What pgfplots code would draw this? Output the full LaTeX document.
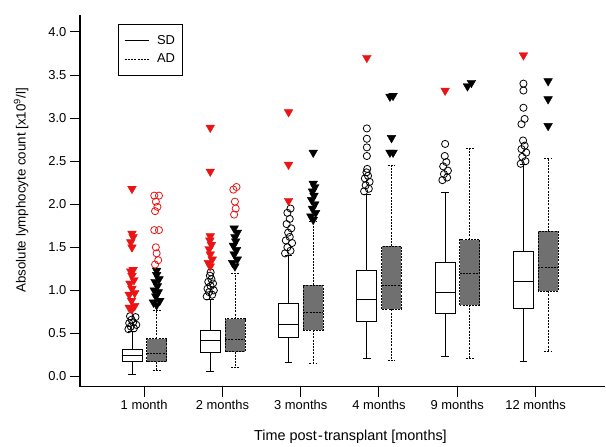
\documentclass[border=0pt]{standalone}
\usepackage{fontspec}
\setmainfont{Liberation Sans}
\usepackage{pgfplots}
\pgfplotsset{compat=1.18}
\usepgfplotslibrary{statistics}
\usetikzlibrary{calc}
\definecolor{myred}{RGB}{235,20,20}
\definecolor{boxgray}{RGB}{112,112,112}
\pgfplotsset{
  sdbox/.style={forget plot, black, solid, line width=0.8bp,
    boxplot/draw direction=y,
    boxplot/box extend=0.255, boxplot/whisker extend=0.1,
    boxplot/every box/.style={draw=black, fill=white}},
  adbox/.style={forget plot, black, dash pattern=on 2bp off 1.2bp, line width=0.8bp,
    boxplot/draw direction=y,
    boxplot/box extend=0.255, boxplot/whisker extend=0.1,
    boxplot/every box/.style={draw=black, fill=boxgray}},
  circblack/.style={forget plot, only marks, mark=o, mark size=3.6bp, black, mark options={line width=0.8bp, fill=white}},
  circred/.style={forget plot, only marks, mark=o, mark size=3.6bp, myred, mark options={line width=0.8bp}},
  trired/.style={forget plot, only marks, mark=triangle*, mark size=5bp, myred, mark options={rotate=180, draw=myred, fill=myred}},
  triblack/.style={forget plot, only marks, mark=triangle*, mark size=5bp, black, mark options={rotate=180, fill=black}},
}
\begin{document}
\begin{tikzpicture}[font=\fontsize{13}{15}\selectfont]
\begin{axis}[
  scale only axis, width=526bp, height=372bp,
  xmin=-0.82, xmax=5.89, ymin=-0.116, ymax=4.197,
  axis x line=bottom, axis y line=left,
  axis line style={line width=1.5bp, -},
  xtick={0,1,2,3,4,5},
  xticklabels={1 month, 2 months, 3 months, 4 months, 9 months, 12 months},
  ytick={0,0.5,1,1.5,2,2.5,3,3.5,4},
  yticklabel style={/pgf/number format/.cd, fixed, fixed zerofill, precision=1, assume math mode=true},
  ticklabel style={font=\fontsize{13}{15}\selectfont},
  tick align=outside, major tick length=10bp,
  tick style={line width=1bp, black},
  xlabel={Time post\kern0.08em-\kern0.08em transplant [months]},
  ylabel={Absolute lymphocyte count [x10\textsuperscript{9}/l]},
  xlabel style={at={(axis description cs:0.515,-0.1344)}, anchor=center, font=\fontsize{14.5}{16}\selectfont},
  ylabel style={at={(axis description cs:-0.112,0.528)}, anchor=center, font=\fontsize{13.4}{15}\selectfont},
  legend style={at={(axis description cs:0.0722,0.976)}, anchor=north west, draw=black, line width=1bp,
    inner xsep=6bp, inner ysep=9bp, row sep=4bp, font=\fontsize{13}{15}\selectfont},
  legend cell align=left,
  legend image code/.code={\draw[#1] (0bp,0bp) -- (24bp,0bp);},
  clip=false,
]
\addlegendimage{black, solid, line width=0.8bp}
\addlegendentry{\makebox[23bp][l]{\hspace{6bp}SD}}
\addlegendimage{black, dash pattern=on 2bp off 1.2bp, line width=0.8bp}
\addlegendentry{\makebox[23bp][l]{\hspace{6bp}AD}}

% ---- 1 month ----
\addplot[sdbox, boxplot prepared={draw position=-0.155, lower whisker=0.02, lower quartile=0.17, median=0.25, upper quartile=0.31, upper whisker=0.52}] coordinates {};
\addplot[adbox, boxplot prepared={draw position=0.16, lower whisker=0.07, lower quartile=0.17, median=0.27, upper quartile=0.44, upper whisker=0.77}] coordinates {};
\addplot[circblack] coordinates {(-0.2,0.55)(-0.13,0.56)(-0.17,0.58)(-0.1,0.6)(-0.19,0.62)(-0.14,0.63)(-0.16,0.66)(-0.11,0.69)(-0.18,0.7)};
\addplot[trired] coordinates {(-0.155,0.78)(-0.19,0.8)(-0.12,0.82)(-0.16,0.88)(-0.19,0.95)(-0.12,0.97)(-0.155,1.02)(-0.18,1.08)(-0.13,1.12)(-0.155,1.17)(-0.17,1.22)(-0.14,1.24)(-0.155,1.5)(-0.17,1.56)(-0.14,1.62)(-0.155,1.66)(-0.155,2.18)};
\addplot[triblack] coordinates {(0.16,0.83)(0.12,0.86)(0.2,0.88)(0.15,0.93)(0.18,0.98)(0.13,1.0)(0.17,1.05)(0.14,1.1)(0.19,1.13)(0.16,1.18)(0.16,1.23)};
\addplot[circred] coordinates {(0.14,1.3)(0.18,1.35)(0.16,1.43)(0.15,1.5)(0.13,1.7)(0.19,1.7)(0.14,1.92)(0.17,1.97)(0.15,2.03)(0.13,2.1)(0.19,2.1)};

% ---- 2 months ----
\addplot[sdbox, boxplot prepared={draw position=0.845, lower whisker=0.06, lower quartile=0.28, median=0.42, upper quartile=0.53, upper whisker=0.9}] coordinates {};
\addplot[adbox, boxplot prepared={draw position=1.16, lower whisker=0.11, lower quartile=0.29, median=0.43, upper quartile=0.67, upper whisker=1.2}] coordinates {};
\addplot[circblack] coordinates {(0.8,0.93)(0.87,0.95)(0.83,0.98)(0.89,1.0)(0.81,1.02)(0.85,1.05)(0.88,1.08)(0.82,1.1)(0.86,1.13)(0.84,1.17)(0.85,1.21)};
\addplot[trired] coordinates {(0.845,1.28)(0.82,1.32)(0.87,1.36)(0.845,1.42)(0.83,1.48)(0.86,1.53)(0.84,1.58)(0.845,1.63)(0.845,2.38)(0.845,2.89)};
\addplot[triblack] coordinates {(1.16,1.28)(1.13,1.32)(1.19,1.36)(1.15,1.42)(1.18,1.47)(1.14,1.52)(1.17,1.57)(1.16,1.62)(1.19,1.67)(1.15,1.72)};
\addplot[circred] coordinates {(1.15,1.88)(1.17,1.95)(1.16,2.03)(1.14,2.17)(1.18,2.2)};

% ---- 3 months ----
\addplot[sdbox, boxplot prepared={draw position=1.845, lower whisker=0.16, lower quartile=0.45, median=0.6, upper quartile=0.85, upper whisker=1.41}] coordinates {};
\addplot[adbox, boxplot prepared={draw position=2.16, lower whisker=0.15, lower quartile=0.54, median=0.74, upper quartile=1.06, upper whisker=1.8}] coordinates {};
\addplot[circblack] coordinates {(1.8,1.43)(1.87,1.46)(1.83,1.5)(1.89,1.55)(1.81,1.58)(1.86,1.62)(1.84,1.67)(1.88,1.72)(1.82,1.77)(1.86,1.83)(1.83,1.9)(1.87,1.95)};
\addplot[trired] coordinates {(1.845,2.04)(1.845,2.46)(1.845,3.07)};
\addplot[triblack] coordinates {(2.16,1.82)(2.13,1.86)(2.19,1.9)(2.15,1.95)(2.18,2.0)(2.14,2.05)(2.17,2.1)(2.15,2.15)(2.18,2.2)(2.16,2.24)(2.16,2.6)};

% ---- 4 months ----
\addplot[sdbox, boxplot prepared={draw position=2.845, lower whisker=0.21, lower quartile=0.64, median=0.9, upper quartile=1.23, upper whisker=2.12}] coordinates {};
\addplot[adbox, boxplot prepared={draw position=3.16, lower whisker=0.19, lower quartile=0.78, median=1.06, upper quartile=1.51, upper whisker=2.45}] coordinates {};
\addplot[circblack] coordinates {(2.81,2.15)(2.87,2.18)(2.83,2.22)(2.88,2.26)(2.82,2.3)(2.86,2.33)(2.84,2.37)(2.85,2.41)(2.845,2.56)(2.845,2.66)(2.845,2.76)(2.845,2.88)};
\addplot[trired] coordinates {(2.845,3.7)};
\addplot[triblack] coordinates {(3.14,2.6)(3.18,2.6)(3.16,2.77)(3.14,3.25)(3.18,3.26)};

% ---- 9 months ----
\addplot[sdbox, boxplot prepared={draw position=3.845, lower whisker=0.23, lower quartile=0.73, median=0.98, upper quartile=1.32, upper whisker=2.14}] coordinates {};
\addplot[adbox, boxplot prepared={draw position=4.16, lower whisker=0.21, lower quartile=0.83, median=1.2, upper quartile=1.59, upper whisker=2.65}] coordinates {};
\addplot[circblack] coordinates {(3.81,2.28)(3.87,2.31)(3.83,2.35)(3.88,2.39)(3.82,2.44)(3.86,2.49)(3.84,2.56)(3.845,2.7)};
\addplot[trired] coordinates {(3.845,3.32)};
\addplot[triblack] coordinates {(4.13,3.37)(4.18,3.41)};

% ---- 12 months ----
\addplot[sdbox, boxplot prepared={draw position=4.845, lower whisker=0.18, lower quartile=0.79, median=1.1, upper quartile=1.45, upper whisker=2.46}] coordinates {};
\addplot[adbox, boxplot prepared={draw position=5.16, lower whisker=0.29, lower quartile=0.99, median=1.27, upper quartile=1.69, upper whisker=2.53}] coordinates {};
\addplot[circblack] coordinates {(4.81,2.47)(4.87,2.5)(4.83,2.55)(4.88,2.6)(4.82,2.64)(4.86,2.68)(4.84,2.74)(4.82,2.93)(4.86,2.99)(4.845,3.12)(4.845,3.32)(4.845,3.4)};
\addplot[trired] coordinates {(4.845,3.73)};
\addplot[triblack] coordinates {(5.16,2.91)(5.16,3.22)(5.16,3.43)};
\end{axis}
\path ($(current axis.south west)+(-80bp,-58bp)$) rectangle ($(current axis.north east)+(0bp,15bp)$);
\end{tikzpicture}
\end{document}
